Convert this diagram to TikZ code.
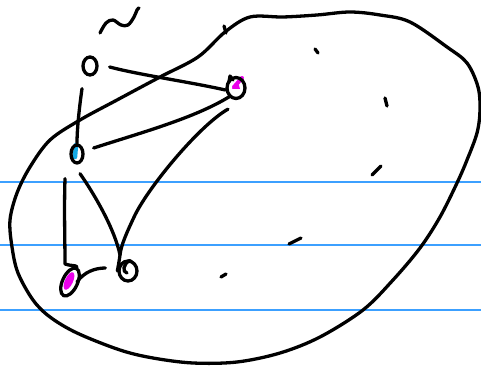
\documentclass[tikz,border=0pt]{standalone}
\usetikzlibrary{calc,shapes.geometric}
\definecolor{rulecol}{RGB}{60,160,255}
\definecolor{pinkm}{RGB}{235,0,235}
\definecolor{cyanm}{RGB}{20,170,230}
\begin{document}
\begin{tikzpicture}[x=1pt,y=-1pt,
  ink/.style={line width=3.3pt,line cap=round,line join=round},
  rule/.style={draw=rulecol,line width=1.2pt},
  vtx/.style={ellipse,draw,line width=3.3pt,inner sep=0pt}]
\useasboundingbox (0,0) rectangle (481,371);
% ruled lines
\draw[rule] (0,182) -- (481,182);
\draw[rule] (0,245) -- (481,245);
\draw[rule] (0,310) -- (481,310);
% big blob
\draw[ink] plot[smooth cycle, tension=0.55] coordinates {
 (250,17) (283,17) (317,15) (350,12) (380,15) (410,22) (447,47) (467,63)
 (478,87) (480,110) (477,133) (467,160) (457,183) (440,217) (420,248)
 (393,280) (363,310) (320,337) (280,353) (237,362) (193,363) (153,358)
 (120,350) (77,333) (50,317) (33,300) (18,273) (12,247) (10,220) (17,193)
 (30,167) (50,140) (80,120) (117,100) (160,77) (198,57) (225,32)};
\draw[ink] (224,26) -- (226,33);
% tilde
\draw[ink] plot[smooth, tension=0.6] coordinates {(100,33) (106,23) (113,20) (121,25) (128,25) (134,17) (137,10) (139,8)};
% stray marks
\draw[ink] (315,49) -- (318,53);
\draw[ink] (385,98) -- (387,106);
\draw[ink] (372,175) -- (381,166);
\draw[ink] (289,244) -- (301,238);
\draw[ink] (221,277) -- (226,274);
% colour marks
\draw[pinkm,line width=4pt,line cap=round] (234,87) -- (242,78);
\fill[pinkm] (232,89) -- (240,89) -- (238,82) -- cycle;
\draw[cyanm,line width=4.5pt,line cap=round] (76,145) -- (75,157);
\node[ellipse,fill=pinkm,minimum width=8pt,minimum height=19pt,inner sep=0pt,rotate=-25] (m4) at (69,281) {};
% nodes
\node[vtx,minimum width=14pt,minimum height=18pt] (n1) at (90,66) {};
\node[vtx,minimum width=18pt,minimum height=21pt] (n2) at (236,88) {};
\node[vtx,minimum width=12pt,minimum height=18pt] (n3) at (77,154) {};
\node[vtx,minimum width=15pt,minimum height=30pt,rotate=-25] (n4) at (70,282) {};
\node[vtx,minimum width=18pt,minimum height=20pt] (n5) at (128,271) {};
\draw[ink] (229,82) -- (230,76) -- (233,80);
\draw[ink] ($(n5.north)+(2,1)$) .. controls (123,264) and (122,272) .. (127,273);
% connectors
\draw[ink] ($(n1.east)+(11,1)$) .. controls (140,75) and (190,82) .. ($(n2.west)+(0,2)$);
\draw[ink] ($(n1.south)+(-8,12)$) .. controls (79,110) and (77,130) .. (n3.north);
\draw[ink] ($(n3.east)+(9,-6)$) .. controls (140,133) and (195,118) .. ($(n2.south west)+(1,0)$);
\draw[ink] ($(n2.south)+(-8,9)$) .. controls (200,125) and (150,185) .. (135,215)
  .. controls (127,232) and (121,245) .. (120,255) .. controls (119,262) .. (n5.west);
\draw[ink] ($(n3.south)+(3,9)$) .. controls (95,195) and (115,230) .. (120,255);
\draw[ink] ($(n3.south)+(-12,14)$) .. controls (64,210) and (65,240) .. (65,264)
  .. controls (70,266) and (76,265) .. (n4.north);
\draw[ink] ($(n4.center)+(7,0)$) .. controls (84,272) and (95,268) .. ($(n5.west)+(-12,-3)$);
\end{tikzpicture}
\end{document}
